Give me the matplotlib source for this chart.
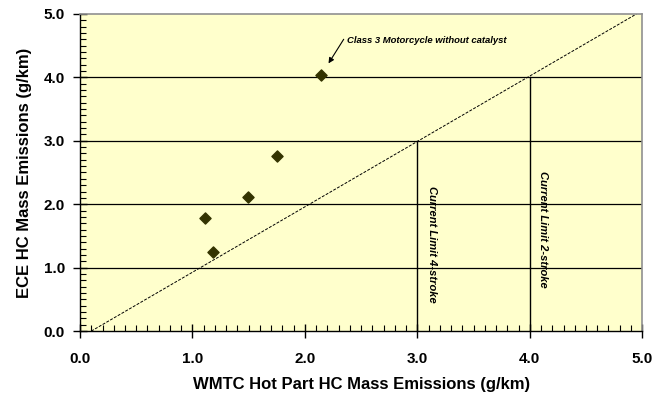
import matplotlib
matplotlib.use("Agg")
import matplotlib.pyplot as plt
from matplotlib.ticker import MultipleLocator, FormatStrFormatter

plt.rcParams['font.family'] = ['Liberation Sans', 'DejaVu Sans']

# Data
wmtc_hc = [1.11, 1.18, 1.49, 1.75, 2.14]
ece_hc = [1.78, 1.25, 2.12, 2.76, 4.04]
diag_x = [0.1, 4.95]
diag_y = [0.0, 5.0]
limit_4stroke = 3.0
limit_2stroke = 4.0
grid_levels = [1.0, 2.0, 3.0, 4.0]

fig = plt.figure(figsize=(6.56, 3.97), dpi=100)
ax = fig.add_axes([0.122, 0.166, 0.857, 0.799])
ax.set_facecolor('#FFFFCC')

ax.set_xlim(0, 5)
ax.set_ylim(0, 5)

for g in grid_levels:
    ax.axhline(g, color='black', lw=0.9, zorder=1)

ax.plot(diag_x, diag_y, color='black', lw=0.7, ls=(0, (3, 1.5)), zorder=2)
ax.plot([limit_4stroke, limit_4stroke], [0, limit_4stroke], color='black', lw=1.0, zorder=2)
ax.plot([limit_2stroke, limit_2stroke], [0, limit_2stroke], color='black', lw=1.0, zorder=2)

ax.scatter(wmtc_hc, ece_hc, marker='D', s=32, color='#333300', zorder=4)

ax.text(3.13, 1.36, 'Current Limit 4-stroke', rotation=-90, ha='center', va='center',
        fontsize=8, fontweight='bold', fontstyle='italic', zorder=5)
ax.text(4.12, 1.60, 'Current Limit 2-stroke', rotation=-90, ha='center', va='center',
        fontsize=8, fontweight='bold', fontstyle='italic', zorder=5)

ax.text(2.37, 4.58, 'Class 3 Motorcycle without catalyst', fontsize=6.8,
        fontweight='bold', fontstyle='italic', ha='left', va='center', zorder=5)
ax.annotate('', xy=(2.21, 4.22), xytext=(2.345, 4.60),
            arrowprops=dict(arrowstyle='-|>', color='black', lw=0.8, mutation_scale=8,
                            shrinkA=0, shrinkB=0), zorder=5)

ax.xaxis.set_major_locator(MultipleLocator(1.0))
ax.yaxis.set_major_locator(MultipleLocator(1.0))
ax.xaxis.set_minor_locator(MultipleLocator(0.1))
ax.yaxis.set_minor_locator(MultipleLocator(0.1))
ax.xaxis.set_major_formatter(FormatStrFormatter('%.1f'))
ax.yaxis.set_major_formatter(FormatStrFormatter('%.1f'))
ax.tick_params(which='major', direction='inout', length=10, width=1, labelsize=11)
ax.tick_params(axis='x', which='major', pad=10)
ax.tick_params(axis='y', which='major', pad=6)
ax.tick_params(which='minor', direction='in', length=4, width=0.8)
for lbl in ax.get_xticklabels() + ax.get_yticklabels():
    lbl.set_fontweight('bold')

for s in ['left', 'bottom']:
    ax.spines[s].set_color('black')
    ax.spines[s].set_linewidth(1.0)
for s in ['top', 'right']:
    ax.spines[s].set_color('#909090')
    ax.spines[s].set_linewidth(1.2)

ax.set_xlabel('WMTC Hot Part HC Mass Emissions (g/km)', fontdict={'fontsize': 12, 'fontweight': 'bold'}, labelpad=8)
ax.set_ylabel('ECE HC Mass Emissions (g/km)', fontdict={'fontsize': 12, 'fontweight': 'bold'}, labelpad=8)

fig.savefig('out.png', dpi=100)
